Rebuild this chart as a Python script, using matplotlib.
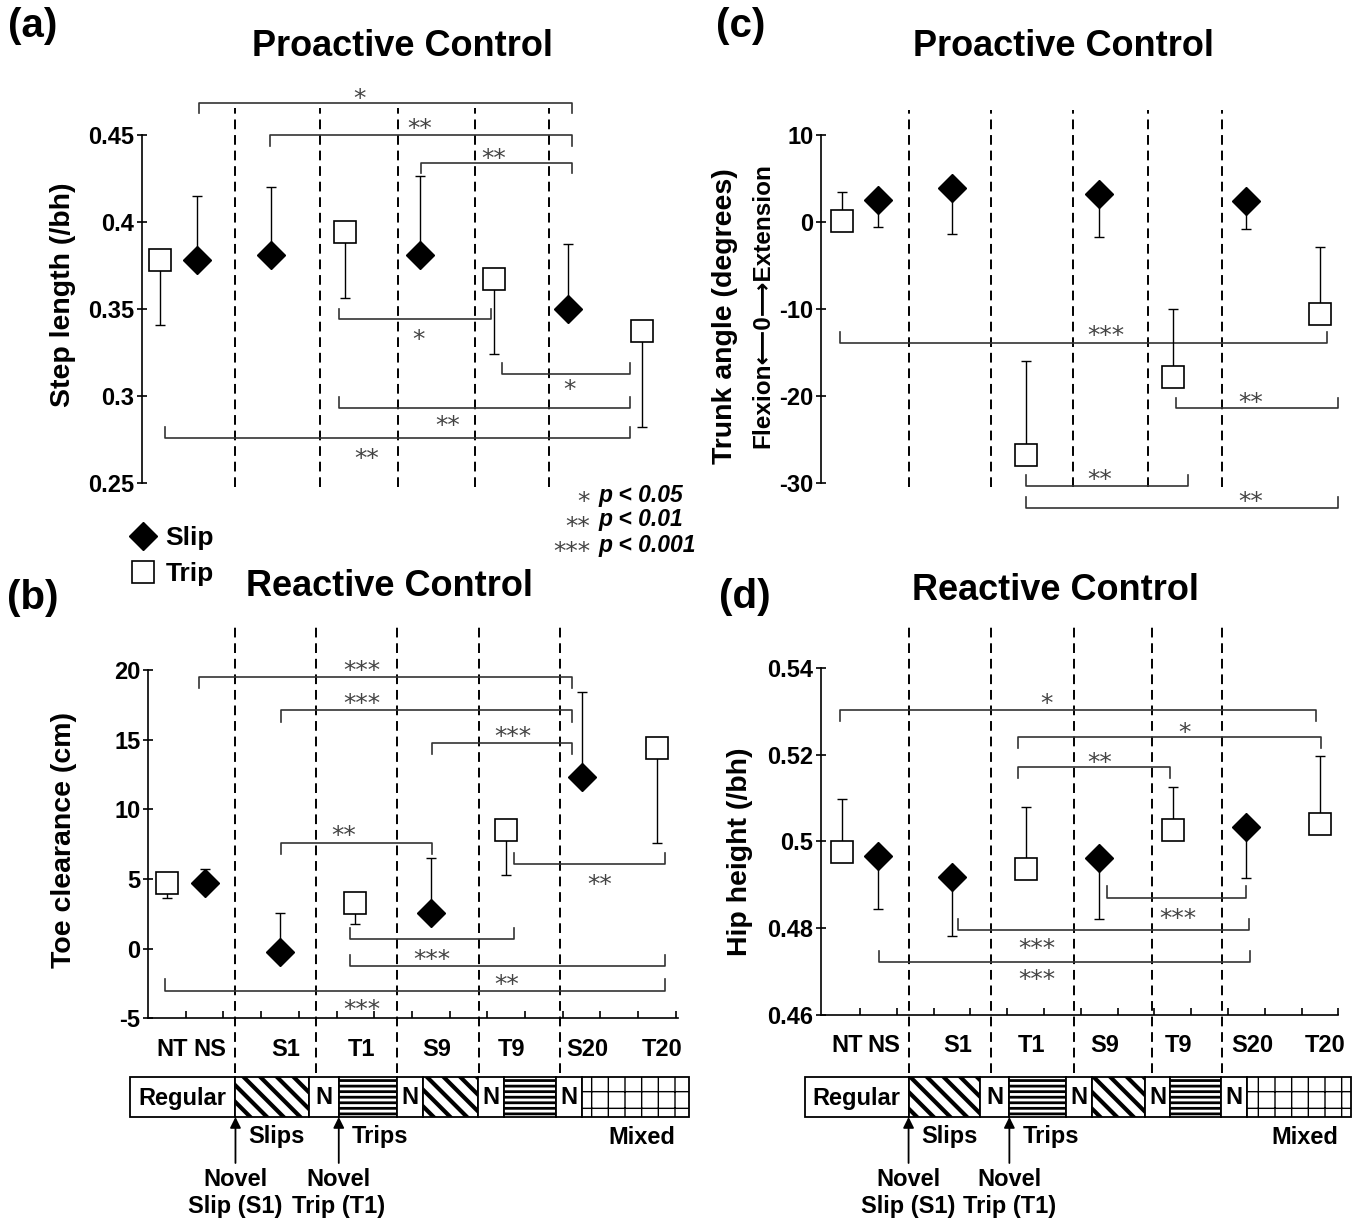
#! /usr/bin/env python

import numpy as np
import matplotlib
matplotlib.use('Agg')
import matplotlib.pyplot as plt
import matplotlib.transforms as mtransforms
from matplotlib.lines import Line2D
from matplotlib.patches import Rectangle

plt.rcParams['font.family'] = ['Liberation Sans', 'DejaVu Sans']
plt.rcParams['font.weight'] = 'bold'

W, H = 1362, 1222

### categories
categories = ['NT', 'NS', 'S1', 'T1', 'S9', 'T9', 'S20', 'T20']
cat_pos = [0.5, 1.5, 3.5, 5.5, 7.5, 9.5, 11.5, 13.5]
slip_cats = ['NS', 'S1', 'S9', 'S20']
trip_cats = ['NT', 'T1', 'T9', 'T20']

### (a) step length (/bh)
step_slip_mean = [0.378, 0.381, 0.381, 0.350]
step_slip_sd = [0.037, 0.039, 0.045, 0.037]
step_trip_mean = [0.378, 0.394, 0.367, 0.337]
step_trip_sd = [0.0375, 0.038, 0.043, 0.055]

### (b) toe clearance (cm)
toe_slip_mean = [4.69, -0.22, 2.58, 12.34]
toe_slip_sd = [1.02, 2.75, 3.90, 6.10]
toe_trip_mean = [4.72, 3.25, 8.54, 14.41]
toe_trip_sd = [1.12, 1.51, 3.26, 6.81]

### (c) trunk angle (degrees)
trunk_slip_mean = [2.46, 3.84, 3.18, 2.34]
trunk_slip_sd = [3.03, 5.29, 4.90, 3.21]
trunk_trip_mean = [0.06, -26.8, -17.83, -10.63]
trunk_trip_sd = [3.39, 10.75, 7.76, 7.69]

### (d) hip height (/bh)
hip_slip_mean = [0.4966, 0.4919, 0.4961, 0.5032]
hip_slip_sd = [0.0121, 0.0137, 0.0140, 0.0116]
hip_trip_mean = [0.4976, 0.4937, 0.5027, 0.5040]
hip_trip_sd = [0.0122, 0.0143, 0.0098, 0.0157]

### significance brackets: x1, x2, bar y, tick end y, label, text x, text y
sig_a = [(1.56, 11.61, 0.4684, 0.4625, '*', 5.89, 0.4745),
         (3.47, 11.61, 0.4500, 0.4437, '**', 7.51, 0.4575),
         (7.53, 11.61, 0.4340, 0.4280, '**', 9.51, 0.4400),
         (5.33, 9.42, 0.3440, 0.3500, '*', 7.46, 0.3360),
         (9.72, 13.17, 0.3123, 0.3188, '*', 11.53, 0.3070),
         (5.33, 13.17, 0.2930, 0.2995, '**', 8.27, 0.2863),
         (0.63, 13.17, 0.2758, 0.2820, '**', 6.08, 0.2678)]
sig_b = [(1.36, 11.24, 19.5, 18.69, '***', 5.67, 20.43),
         (3.52, 11.24, 17.1, 16.29, '***', 5.67, 18.08),
         (7.53, 11.24, 14.74, 13.95, '***', 9.67, 15.7),
         (3.52, 7.53, 7.6, 6.79, '**', 5.19, 8.56),
         (9.70, 13.70, 6.05, 6.84, '**', 11.98, 5.05),
         (5.35, 9.72, 0.67, 1.46, '***', 7.53, -0.29),
         (5.35, 13.70, -1.25, -0.46, '**', 9.51, -2.09),
         (0.44, 13.70, -3.04, -2.2, '***', 5.67, -3.92)]
sig_c = [(0.47, 13.69, -13.9, -12.64, '***', 7.68, -12.37),
         (9.60, 14.0, -21.45, -20.23, '**', 11.61, -20.03),
         (5.50, 9.91, -30.38, -29.1, '**', 7.52, -28.9),
         (5.50, 14.0, -32.87, -31.6, '**', 11.61, -31.4)]
sig_d = [(0.47, 13.39, 0.5303, 0.5277, '*', 6.07, 0.5333),
         (5.30, 13.53, 0.5241, 0.5214, '*', 9.82, 0.5266),
         (5.30, 9.43, 0.5171, 0.5145, '**', 7.52, 0.5197),
         (7.71, 11.48, 0.4870, 0.4896, '***', 9.64, 0.4836),
         (3.67, 11.57, 0.4796, 0.4820, '***', 5.80, 0.4767),
         (1.51, 11.60, 0.4723, 0.4748, '***', 5.80, 0.4696)]

### block dividers (dashed lines)
div_a = [2.52, 4.81, 6.92, 8.99, 10.99]
div_b = [2.30, 4.45, 6.60, 8.77, 10.94]
div_c = [2.33, 4.55, 6.78, 8.84, 10.85]
div_d = [2.33, 4.55, 6.81, 8.93, 10.84]

### protocol bar
seg_edges = [-0.49, 2.32, 4.26, 5.06, 6.60, 7.30, 8.74, 9.43, 10.82, 11.52, 14.34]
seg_kinds = ['Regular', 'slip', 'N', 'trip', 'N', 'slip', 'N', 'trip', 'N', 'mixed']

### p legend
p_stars = ['*', '**', '***']
p_texts = ['p < 0.05', 'p < 0.01', 'p < 0.001']


def px_rect(l, t, r, b):
    return [l / W, 1 - b / H, (r - l) / W, (b - t) / H]


fig = plt.figure(figsize=(W / 100, H / 100), dpi=100)

STAR_SIZE = 18


def draw_panel(ax, slip_mean, slip_sd, trip_mean, trip_sd, slip_up, sig, dividers,
               div_span, yticks, yticklabels, bottom_axis):
    slip_x = [cat_pos[categories.index(c)] for c in slip_cats]
    trip_x = [cat_pos[categories.index(c)] for c in trip_cats]
    zeros = np.zeros(len(slip_sd))
    slip_err = [zeros, slip_sd] if slip_up else [slip_sd, zeros]
    trip_err = [trip_sd, zeros] if slip_up else [zeros, trip_sd]
    ax.errorbar(slip_x, slip_mean, yerr=slip_err, fmt='none', ecolor='k',
                elinewidth=1.0, capsize=3.5, capthick=1.0, zorder=2)
    ax.errorbar(trip_x, trip_mean, yerr=trip_err, fmt='none', ecolor='k',
                elinewidth=1.0, capsize=3.5, capthick=1.0, zorder=2)
    ax.plot(slip_x, slip_mean, ls='none', marker='D', ms=14, color='k', zorder=4)
    ax.plot(trip_x, trip_mean, ls='none', marker='s', ms=16.5, mfc='white',
            mec='k', mew=1.2, zorder=4)

    ax.vlines(dividers, div_span[0], div_span[1], colors='k',
              linestyles=(0, (5, 3)), lw=1.4, clip_on=False, zorder=1)

    star_tf = mtransforms.offset_copy(ax.transData, fig=fig, x=0,
                                      y=-0.555 * STAR_SIZE, units='points')
    for x1, x2, yb, yt, lab, tx, ty in sig:
        ax.plot([x1, x1, x2, x2], [yt, yb, yb, yt], color='#333333', lw=1.2,
                zorder=1, clip_on=False)
        ax.text(tx, ty, lab, transform=star_tf, ha='center', va='baseline',
                fontsize=STAR_SIZE, family='DejaVu Sans', fontweight='normal',
                color='#444444', clip_on=False)

    for s in ['top', 'right']:
        ax.spines[s].set_visible(False)
    ax.spines['left'].set_linewidth(1.2)
    ax.spines['left'].set_bounds(yticks[0], yticks[-1])
    ax.set_yticks(yticks, labels=yticklabels)
    ax.tick_params(axis='y', direction='inout', length=7, width=1.2,
                   labelsize=17, pad=2)
    if bottom_axis:
        ax.spines['bottom'].set_linewidth(1.2)
        ax.set_xticks(range(1, 15), labels=[''] * 14)
        ax.tick_params(axis='x', which='major', direction='in', length=5, width=1.2)
        ax.set_xticks([p + 0.15 for p in cat_pos], labels=categories, minor=True)
        ax.tick_params(axis='x', which='minor', length=0, pad=14, labelsize=17)
    else:
        ax.spines['bottom'].set_visible(False)
        ax.set_xticks([])
    ax.patch.set_alpha(0)


def draw_protocol(dax):
    dax.axis('off')
    top, bot = 1077, 1117
    hatches = {'slip': ('\\\\', 3.0), 'trip': ('---', 2.0), 'mixed': ('+', 1.0)}
    for x0, x1, kind in zip(seg_edges[:-1], seg_edges[1:], seg_kinds):
        hatch, hlw = hatches.get(kind, (None, 1.0))
        plt.rcParams['hatch.linewidth'] = hlw
        rect = Rectangle((x0, top), x1 - x0, bot - top, facecolor='white',
                         edgecolor='k', lw=1.3, hatch=hatch, clip_on=False)
        if hasattr(rect, 'set_hatch_linewidth'):
            rect.set_hatch_linewidth(hlw)
        dax.add_patch(rect)
        if kind in ('Regular', 'N'):
            dax.text((x0 + x1) / 2, (top + bot) / 2 + 1, kind, ha='center',
                     va='center', fontsize=17, clip_on=False)
    for xa, lab, novel in [(seg_edges[1], 'Slips', 'Slip (S1)'),
                           (seg_edges[3], 'Trips', 'Trip (T1)')]:
        dax.annotate('', xy=(xa, bot), xytext=(xa, 1163),
                     arrowprops=dict(arrowstyle='-|>', color='k', lw=1.3,
                                     mutation_scale=16, shrinkA=0, shrinkB=0),
                     annotation_clip=False)
        dax.text(xa + 0.35, 1137, lab, ha='left', va='center', fontsize=17)
        dax.text(xa, 1180, 'Novel', ha='center', va='center', fontsize=17)
        dax.text(xa, 1206, novel, ha='center', va='center', fontsize=17)
    dax.text(13.1, 1137, 'Mixed', ha='center', va='center', fontsize=17)


### axes
ax_a = fig.add_axes(px_rect(141.5, 80, 681, 490))
ax_a.set_xlim(0, 14.55)
ax_a.set_ylim(0.45 - (490 - 134.7) / 1740, 0.45 + (134.7 - 80) / 1740)

ax_b = fig.add_axes(px_rect(148, 615, 677.7, 1018.3))
ax_b.set_xlim(0, 14.05)
ax_b.set_ylim(-5, 20 + (670 - 615) / 13.93)

ax_c = fig.add_axes(px_rect(821, 80, 1338.3, 520))
ax_c.set_xlim(-0.06, 14.0)
ax_c.set_ylim(10 - (520 - 134.7) / 8.7, 10 + (134.7 - 80) / 8.7)

ax_d = fig.add_axes(px_rect(821, 615, 1338.3, 1015))
ax_d.set_xlim(-0.06, 14.0)
ax_d.set_ylim(0.46, 0.54 + (667.7 - 615) / 4341)

draw_panel(ax_a, step_slip_mean, step_slip_sd, step_trip_mean, step_trip_sd, True,
           sig_a, div_a, (0.2475, 0.4653), [0.25, 0.3, 0.35, 0.4, 0.45],
           ['0.25', '0.3', '0.35', '0.4', '0.45'], False)
draw_panel(ax_b, toe_slip_mean, toe_slip_sd, toe_trip_mean, toe_trip_sd, True,
           sig_b, div_b, (-8.93, 23.47), [-5, 0, 5, 10, 15, 20],
           ['-5', '0', '5', '10', '15', '20'], True)
draw_panel(ax_c, trunk_slip_mean, trunk_slip_sd, trunk_trip_mean, trunk_trip_sd, False,
           sig_c, div_c, (-30.46, 12.83), [-30, -20, -10, 0, 10],
           ['-30', '-20', '-10', '0', '10'], False)
draw_panel(ax_d, hip_slip_mean, hip_slip_sd, hip_trip_mean, hip_trip_sd, False,
           sig_d, div_d, (0.4466, 0.5506), [0.46, 0.48, 0.5, 0.52, 0.54],
           ['0.46', '0.48', '0.5', '0.52', '0.54'], True)

### protocol diagrams under the bottom panels
for ax in (ax_b, ax_d):
    pos = ax.get_position()
    dax = fig.add_axes([pos.x0, 0, pos.width, 1 - 1040 / H])
    dax.set_xlim(ax.get_xlim())
    dax.set_ylim(1222, 1040)
    draw_protocol(dax)

### titles, panel tags, axis labels
def ftext(x, y, s, **kw):
    fig.text(x / W, 1 - y / H, s, **kw)

ftext(402, 46, 'Proactive Control', ha='center', va='center', fontsize=26)
ftext(1063, 46, 'Proactive Control', ha='center', va='center', fontsize=26)
ftext(389, 587, 'Reactive Control', ha='center', va='center', fontsize=26)
ftext(1055, 590, 'Reactive Control', ha='center', va='center', fontsize=26)

ftext(33, 26, '(a)', ha='center', va='center', fontsize=29)
ftext(33, 598, '(b)', ha='center', va='center', fontsize=29)
ftext(741, 26, '(c)', ha='center', va='center', fontsize=29)
ftext(745, 597, '(d)', ha='center', va='center', fontsize=29)

ftext(63, 295, 'Step length (/bh)', rotation=90, ha='center', va='center', fontsize=20.5)
ftext(64, 840, 'Toe clearance (cm)', rotation=90, ha='center', va='center', fontsize=20.5)
ftext(725, 316, 'Trunk angle (degrees)', rotation=90, ha='center', va='center', fontsize=20.5)
ftext(763, 306, 'Flexion\u27f50\u27f6Extension', rotation=90, ha='center', va='center',
      fontsize=17.5)
ftext(740, 852, 'Hip height (/bh)', rotation=90, ha='center', va='center', fontsize=20.5)

### p value key
for i, (st, pt) in enumerate(zip(p_stars, p_texts)):
    yc = 495 + 25 * i
    ftext(590, yc + 0.555 * STAR_SIZE * 100 / 72, st, ha='right', va='baseline',
          fontsize=STAR_SIZE, family='DejaVu Sans', fontweight='normal', color='#444444')
    ftext(598, yc, pt, ha='left', va='center', fontsize=16.5, style='italic')

### slip / trip legend
handles = [Line2D([], [], ls='none', marker='D', ms=14, color='k'),
           Line2D([], [], ls='none', marker='s', ms=16.5, mfc='white', mec='k', mew=1.2)]
fig.legend(handles, ['Slip', 'Trip'], loc='upper left',
           bbox_to_anchor=(127 / W, 1 - 526 / H), frameon=False, borderpad=0,
           borderaxespad=0, handlelength=1.2, handletextpad=0.25, labelspacing=0.45,
           prop={'size': 19, 'weight': 'bold'})

plt.savefig('out.png', dpi=100)
